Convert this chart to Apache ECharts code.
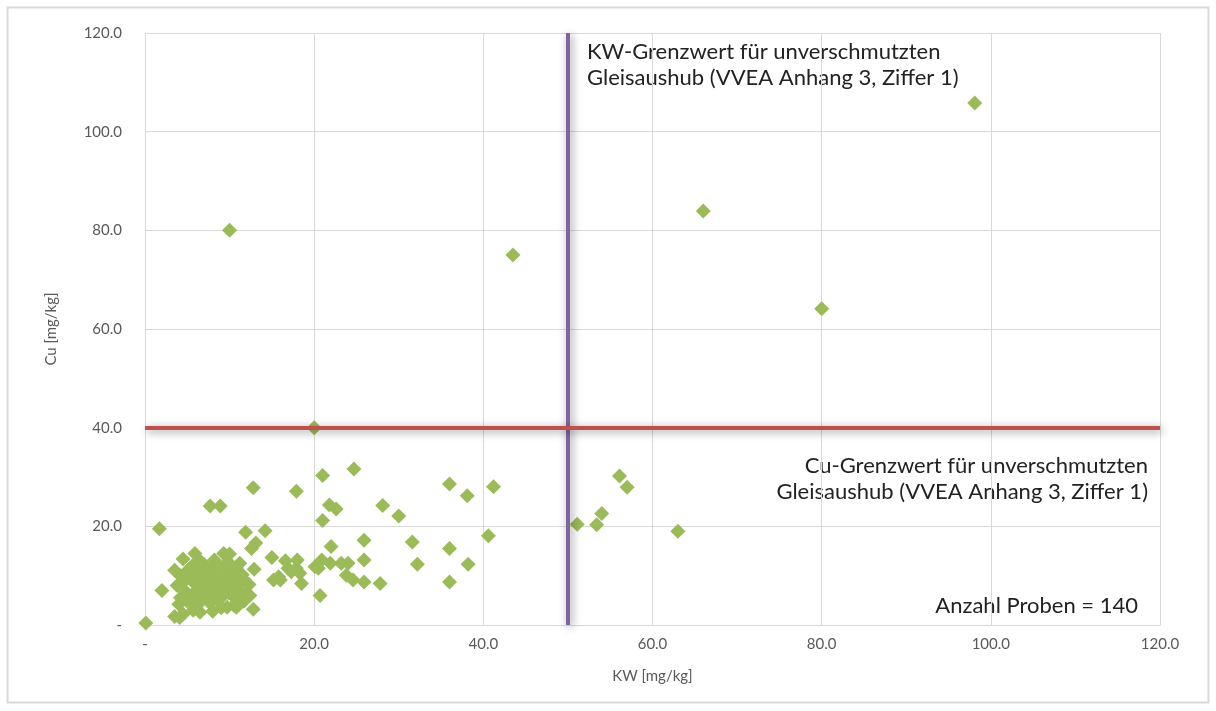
<!DOCTYPE html>
<html>
<head>
<meta charset="utf-8">
<script src="https://cdn.jsdelivr.net/npm/echarts@6/dist/echarts.min.js"></script>
<style>
  html, body { margin: 0; padding: 0; background: #fff; }
  #chart { width: 1216px; height: 711px; }
</style>
</head>
<body>
<div id="chart"></div>
<script>
// KW (x) and Cu (y) per sample, mg/kg
var kw = [
  98.1, 66.0, 80.0, 43.5, 10.0, 20.0,
  51.1, 53.4, 54.0, 56.1, 57.0, 63.0,
  24.7, 21.0, 17.9, 21.8, 22.6, 21.0, 28.1, 30.0, 36.0, 38.1, 41.2, 40.6,
  22.0, 25.9, 25.9, 31.6, 32.2, 36.0, 38.2, 36.0, 20.7, 27.8, 25.9, 24.6,
  23.8, 23.2, 24.0, 21.9, 20.9, 20.1, 20.5, 18.0, 16.6, 17.9, 18.3, 18.5,
  16.0, 17.3,
  12.8, 7.7, 8.9, 1.7, 11.9, 14.2, 13.1, 12.6, 15.0, 12.9, 15.2, 15.8,
  16.9, 12.8, 12.0, 0.1, 2.0, 4.1, 5.9, 4.5, 3.5, 9.3, 10.0, 9.7, 10.5,
  3.5, 4.5, 5.7, 4.0, 5.0, 6.2, 7.7, 8.5, 6.8, 5.5, 4.2, 3.8, 4.6, 5.3,
  6.0, 6.6, 7.3, 7.9, 8.6, 9.2, 9.9, 10.6, 11.3, 10.9, 10.2, 9.5, 8.8,
  8.1, 7.4, 6.9, 6.2, 5.6, 5.0, 4.2, 7.0, 7.8, 8.5, 9.3, 10.0, 10.8,
  11.5, 11.8, 12.3, 11.2, 9.8, 8.2, 6.5, 12.4, 11.7, 10.8, 9.0, 8.0,
  6.5, 5.3, 6.0, 7.2, 8.4, 9.6, 10.4, 11.0, 6.4, 5.8, 4.8, 7.6, 9.0, 8.0
];
var cu = [
  105.8, 83.9, 64.1, 75.0, 80.0, 40.0,
  20.4, 20.3, 22.6, 30.2, 27.9, 19.0,
  31.6, 30.3, 27.1, 24.3, 23.5, 21.2, 24.2, 22.1, 28.6, 26.2, 28.0, 18.1,
  15.9, 17.2, 13.2, 16.8, 12.3, 15.5, 12.3, 8.7, 6.0, 8.4, 8.7, 9.1,
  10.1, 12.5, 12.5, 12.5, 13.2, 11.8, 11.5, 13.2, 13.0, 11.5, 10.5, 8.4,
  9.1, 10.8,
  27.8, 24.1, 24.1, 19.5, 18.8, 19.1, 16.6, 15.5, 13.7, 11.3, 9.1, 9.8,
  11.5, 3.2, 6.4, 0.4, 7.0, 1.5, 14.5, 13.4, 11.1, 14.5, 14.4, 3.6, 4.0,
  1.7, 2.2, 3.0, 4.2, 4.8, 4.0, 4.4, 5.2, 5.6, 6.0, 5.5, 8.0, 8.8, 9.5,
  8.2, 7.0, 6.2, 7.5, 6.8, 5.9, 6.5, 5.5, 6.8, 8.1, 9.0, 8.4, 9.2,
  10.1, 9.0, 10.5, 11.2, 12.0, 11.0, 10.0, 12.2, 11.5, 12.4, 11.0, 10.5, 11.6,
  10.2, 9.0, 8.2, 12.5, 12.8, 13.2, 13.0, 6.0, 4.8, 3.6, 3.5, 2.8,
  2.6, 5.2, 6.8, 8.0, 8.2, 7.4, 7.2, 9.5, 9.5, 10.4, 6.8, 5.4, 10.0, 6.2
];
var kwLimit = 50;
var cuLimit = 40;
var sampleCount = 140;

var points = kw.map(function (x, i) { return [x, cu[i]]; });

var font = 'Lato, "Open Sans", sans-serif';
var chart = echarts.init(document.getElementById('chart'));

function tickText(v) {
  return v === 0 ? '-' : v.toFixed(1);
}

var limitShadow = { shadowBlur: 8, shadowColor: 'rgba(0,0,0,0.45)', shadowOffsetX: 2, shadowOffsetY: 2 };

chart.setOption({
  backgroundColor: '#fff',
  animation: false,
  grid: { left: 145, right: 56, top: 33, bottom: 86 },
  xAxis: {
    type: 'value',
    min: 0, max: 120, interval: 20,
    name: 'KW [mg/kg]',
    nameLocation: 'middle',
    nameGap: 44,
    nameTextStyle: { color: '#595959', fontSize: 15, fontFamily: font },
    axisLine: { show: true, lineStyle: { color: '#d9d9d9' } },
    axisTick: { show: false },
    axisLabel: { color: '#595959', fontSize: 15, fontFamily: font, margin: 12, formatter: tickText },
    splitLine: { show: true, lineStyle: { color: '#d9d9d9' } }
  },
  yAxis: {
    type: 'value',
    min: 0, max: 120, interval: 20,
    name: 'Cu [mg/kg]',
    nameLocation: 'middle',
    nameGap: 86,
    nameTextStyle: { color: '#595959', fontSize: 15, fontFamily: font },
    axisLine: { show: false },
    axisTick: { show: false },
    axisLabel: { color: '#595959', fontSize: 15, fontFamily: font, margin: 23, formatter: tickText },
    splitLine: { show: true, lineStyle: { color: '#d9d9d9' } }
  },
  series: [{
    type: 'scatter',
    symbol: 'diamond',
    symbolSize: 15,
    itemStyle: { color: '#9bbb59', opacity: 1 },
    data: points,
    z: 3,
    markLine: {
      silent: true,
      symbol: 'none',
      label: { show: false },
      z: 4,
      data: [
        { xAxis: kwLimit, lineStyle: Object.assign({ color: '#8064a2', width: 4, type: 'solid' }, limitShadow) },
        { yAxis: cuLimit, lineStyle: Object.assign({ color: '#c0504d', width: 4, type: 'solid' }, limitShadow) }
      ]
    }
  }],
  graphic: [
    { type: 'rect', shape: { x: 7.5, y: 7.5, width: 1201, height: 695 },
      style: { fill: null, stroke: '#d9d9d9', lineWidth: 2 }, silent: true },
    { type: 'text', x: 587, y: 39,
      style: { text: 'KW-Grenzwert für unverschmutzten\nGleisaushub (VVEA Anhang 3, Ziffer 1)',
        fill: '#222', font: '22px ' + font, lineHeight: 26, align: 'left', verticalAlign: 'top' } },
    { type: 'text', x: 1148, y: 453,
      style: { text: 'Cu-Grenzwert für unverschmutzten\nGleisaushub (VVEA Anhang 3, Ziffer 1)',
        fill: '#222', font: '22px ' + font, lineHeight: 26, align: 'right', verticalAlign: 'top' } },
    { type: 'text', x: 1138, y: 593,
      style: { text: 'Anzahl Proben = ' + sampleCount, fill: '#222', font: '22px ' + font,
        lineHeight: 26, align: 'right', verticalAlign: 'top' } }
  ]
});
</script>
</body>
</html>
